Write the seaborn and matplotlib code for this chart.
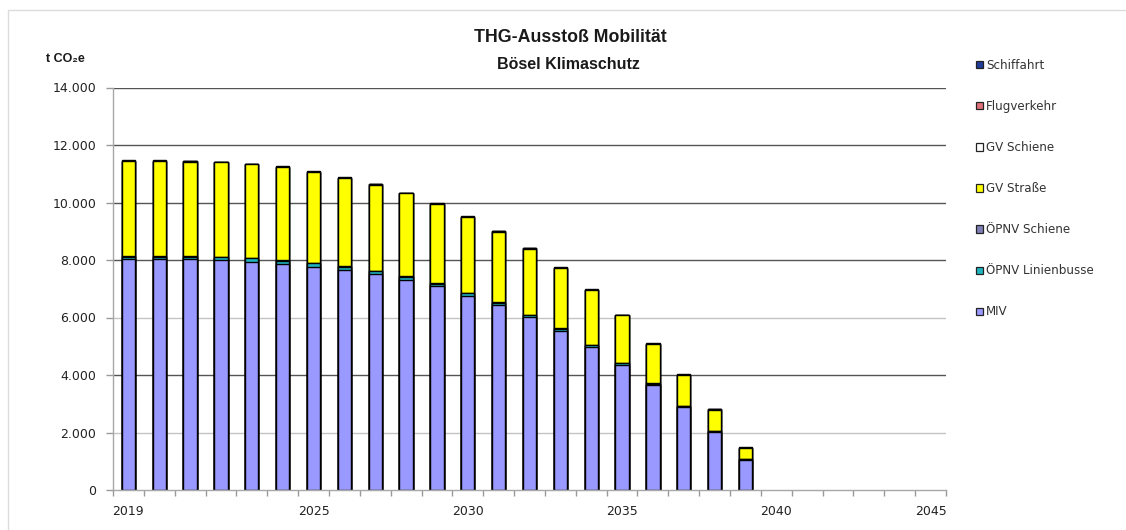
import numpy as np
import pandas as pd
import matplotlib
matplotlib.use("Agg")
import matplotlib.pyplot as plt
from matplotlib.patches import Patch, Rectangle
from matplotlib.ticker import FuncFormatter, FixedLocator
import seaborn as sns

# Category axis runs to 2045, emissions data until 2039
axis_years = [str(y) for y in range(2019, 2046)]
years = [str(y) for y in range(2019, 2040)]
shown_year_labels = ["2019", "2025", "2030", "2035", "2040", "2045"]

# Emissions per sector in t CO2e
miv = [8020, 8020, 8020, 7990, 7945, 7850, 7770, 7645, 7515, 7320, 7080,
       6760, 6435, 6005, 5540, 4975, 4350, 3640, 2875, 2015, 1045]
oepnv_linienbusse = [100, 100, 100, 105, 110, 120, 125, 125, 95, 95, 90,
                     90, 85, 80, 75, 65, 55, 55, 45, 40, 35]
oepnv_schiene = [15, 15, 15, 15, 15, 15, 15, 15, 15, 15, 15,
                 15, 15, 15, 15, 12, 10, 10, 8, 6, 4]
gv_strasse = [3305, 3305, 3285, 3285, 3255, 3240, 3150, 3070, 3000, 2885, 2760,
              2635, 2455, 2300, 2095, 1900, 1655, 1365, 1060, 730, 370]
gv_schiene = [10, 10, 10, 10, 10, 10, 10, 10, 10, 10, 10,
              10, 10, 10, 10, 10, 10, 10, 10, 10, 10]
flugverkehr = [0, 0, 0, 0, 0, 0, 0, 0, 0, 0, 0,
               0, 0, 0, 0, 0, 0, 0, 0, 0, 0]
schiffahrt = [20, 20, 20, 20, 20, 20, 20, 20, 20, 20, 20,
              20, 20, 20, 20, 20, 20, 20, 20, 20, 20]

series_names = ["MIV", "ÖPNV Linienbusse", "ÖPNV Schiene", "GV Straße",
                "GV Schiene", "Flugverkehr", "Schiffahrt"]
series_values = [miv, oepnv_linienbusse, oepnv_schiene, gv_strasse,
                 gv_schiene, flugverkehr, schiffahrt]
series_colors = ["#9999FF", "#1FB5C0", "#7F7FB5", "#FFFF00",
                 "#FFFFFF", "#E0707A", "#1F3C99"]
y_ticks = [0, 2000, 4000, 6000, 8000, 10000, 12000, 14000]

sns.set_theme(style="white")
plt.rcParams["font.family"] = ["DejaVu Sans"]

W, H = 1126, 530
fig = plt.figure(figsize=(W / 100, H / 100), dpi=100)
fig.patch.set_facecolor("white")

# light frame around the chart area
fig.patches.append(Rectangle((8 / W, -0.5), 1.5, 1.5 - 10 / H,
                             transform=fig.transFigure, fill=False,
                             edgecolor="#dcdcdc", linewidth=1.0, zorder=0))

ax_left, ax_right, ax_top, ax_bottom = 113, 946, 87.5, 490
ax = fig.add_axes([ax_left / W, (H - ax_bottom) / H,
                   (ax_right - ax_left) / W, (ax_bottom - ax_top) / H])
ax.set_facecolor("white")

df = pd.DataFrame({"Jahr": years})
for name, vals in zip(series_names, series_values):
    df[name] = vals

# stacked bars: draw cumulative totals from the top layer downwards
for i in range(len(series_names) - 1, -1, -1):
    layer = pd.DataFrame({"Jahr": years,
                          "Wert": df[series_names[:i + 1]].sum(axis=1)})
    sns.barplot(data=layer, x="Jahr", y="Wert", order=axis_years,
                color=series_colors[i], saturation=1, edgecolor="black",
                linewidth=1.0, width=0.43, errorbar=None, ax=ax, zorder=3)

# horizontal gridlines
grid_colors = {2000: "#c4c4c4", 4000: "#555555", 6000: "#c4c4c4",
               8000: "#555555", 10000: "#555555", 12000: "#555555",
               14000: "#555555"}
for yv, gc in grid_colors.items():
    ax.axhline(yv, color=gc, linewidth=1.0, zorder=1)

ax.set_ylim(0, 14000)
ax.set_xlim(-0.5, len(axis_years) - 0.5)
ax.set_yticks(y_ticks)
ax.yaxis.set_major_formatter(FuncFormatter(lambda v, p: f"{int(v):,}".replace(",", ".")))

ax.set_xticks(range(len(axis_years)))
ax.set_xticklabels([y if y in shown_year_labels else "" for y in axis_years])
ax.xaxis.set_minor_locator(FixedLocator(np.arange(-0.5, len(axis_years), 1.0)))

ax.set_xlabel("")
ax.set_ylabel("")
ax.tick_params(axis="x", which="major", length=0, pad=11, labelsize=9,
               labelcolor="#222222")
ax.tick_params(axis="x", which="minor", length=4, width=1, color="#999999",
               direction="out", bottom=True)
ax.tick_params(axis="y", which="major", length=5, width=1, color="#999999",
               direction="out", left=True, pad=7, labelsize=9,
               labelcolor="#222222")

for side in ["top", "right"]:
    ax.spines[side].set_visible(False)
for side in ["left", "bottom"]:
    ax.spines[side].set_color("#a8a8a8")
    ax.spines[side].set_linewidth(1.0)
    ax.spines[side].set_zorder(4)

title_font = ["Liberation Sans", "DejaVu Sans"]
fig.text(570 / W, 1 - 37.5 / H, "THG-Ausstoß Mobilität", ha="center",
         va="center", fontsize=12.8, fontweight="bold", family=title_font,
         color="#1a1a1a")
fig.text(568 / W, 1 - 64.5 / H, "Bösel Klimaschutz", ha="center",
         va="center", fontsize=11.5, fontweight="bold", family=title_font,
         color="#1a1a1a")
fig.text(46 / W, 1 - 59 / H, "t CO₂e", ha="left", va="center",
         fontsize=9, fontweight="bold", family=title_font, color="#1a1a1a")

handles = [Patch(facecolor=c, edgecolor="#222222", linewidth=0.9)
           for c in series_colors[::-1]]
fig.legend(handles, series_names[::-1], loc="upper left",
           bbox_to_anchor=(976 / W, 1 - 59 / H), frameon=False, fontsize=8.6,
           handlelength=0.55, handleheight=0.55, handletextpad=0.3,
           labelspacing=2.35, borderpad=0, borderaxespad=0,
           labelcolor="#333333")

fig.savefig("out.png", dpi=100, facecolor="white")
